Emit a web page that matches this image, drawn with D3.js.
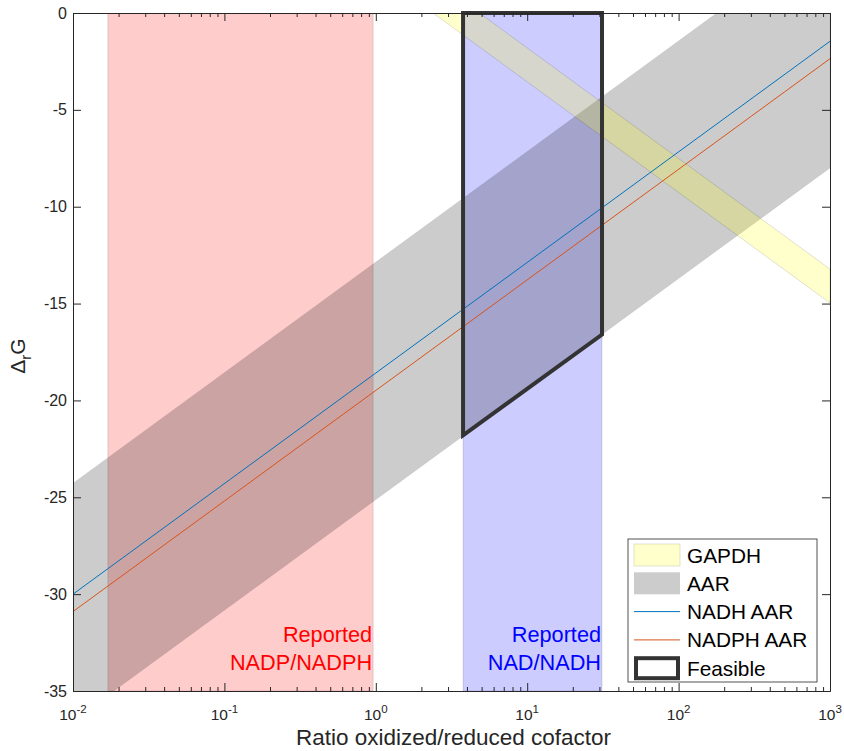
<!DOCTYPE html>
<html>
<head>
<meta charset="utf-8">
<script src="https://cdn.jsdelivr.net/npm/d3@7"></script>
<style>
  body { margin: 0; background: #fff; }
  text { font-family: "Liberation Sans", Arial, Helvetica, sans-serif; }
</style>
</head>
<body>
<script>
// data
const xTicks = [0.01, 0.1, 1, 10, 100, 1000]
const xTickExp = ["-2", "-1", "0", "1", "2", "3"]
const yTicks = [-35, -30, -25, -20, -15, -10, -5, 0]

const nadpRange = [0.017, 0.96]      // reported NADP/NADPH
const nadRange = [3.77, 31.2]        // reported NAD/NADH

const aarBand = [[0.01, -24.27], [1000, 4.27], [1000, -8.0], [0.01, -36.54]]
const gapdhBand = [[0.01, 15.32], [1000, -13.22], [1000, -14.97], [0.01, 13.57]]
const nadhLine = [[0.01, -30.0], [1000, -1.46]]
const nadphLine = [[0.01, -30.9], [1000, -2.36]]
const feasible = [[3.77, 0], [31.2, 0], [31.2, -16.6], [3.77, -21.8]]

const legendItems = ["GAPDH", "AAR", "NADH AAR", "NADPH AAR", "Feasible"]

width = 844
height = 751
margin = {left: 73, right: 14, top: 13, bottom: 60}
axisCol = "#262626"

svg = d3.select("body")
    .append("svg")
    .attr("width", width)
    .attr("height", height)

x = d3.scaleLog().domain([0.01, 1000]).range([margin.left, width - margin.right])
y = d3.scaleLinear().domain([-35, 0]).range([height - margin.bottom, margin.top])

svg.append("clipPath").attr("id", "plotclip")
    .append("rect")
    .attr("x", margin.left).attr("y", margin.top)
    .attr("width", x.range()[1] - margin.left)
    .attr("height", y.range()[0] - margin.top)

plot = svg.append("g").attr("clip-path", "url(#plotclip)")

line = d3.line().x(d => x(d[0])).y(d => y(d[1]))

// reported ranges (vertical bands)
function band(r, col) {
    plot.append("rect")
        .attr("x", x(r[0]))
        .attr("y", y(0))
        .attr("width", x(r[1]) - x(r[0]))
        .attr("height", y(-35) - y(0))
        .attr("fill", col)
        .attr("fill-opacity", 0.2)
        .attr("stroke", "#000")
        .attr("stroke-opacity", 0.12)
}
band(nadpRange, "#ff0000")
band(nadRange, "#0000ff")

// AAR and GAPDH patches
plot.append("path")
    .attr("d", line(aarBand) + "Z")
    .attr("fill", "#000").attr("fill-opacity", 0.2)
    .attr("stroke", "#000").attr("stroke-opacity", 0.05)
plot.append("path")
    .attr("d", line(gapdhBand) + "Z")
    .attr("fill", "#ffff00").attr("fill-opacity", 0.2)
    .attr("stroke", "#000").attr("stroke-opacity", 0.12)

plot.append("path").attr("d", line(nadhLine))
    .attr("fill", "none").attr("stroke", "#0072bd").attr("stroke-width", 1)
plot.append("path").attr("d", line(nadphLine))
    .attr("fill", "none").attr("stroke", "#d95319").attr("stroke-width", 1)

// feasible region outline
svg.append("path")
    .attr("d", line(feasible) + "Z")
    .attr("fill", "none")
    .attr("stroke", "#333")
    .attr("stroke-width", 4)
    .attr("stroke-linejoin", "miter")

// axes (ticks pointing in, box on)
minor = []
for (let e = -2; e < 3; e++) for (let k = 2; k < 10; k++) minor.push(k * Math.pow(10, e))

function styleAxis(g) {
    g.selectAll("path, line").attr("stroke", axisCol)
    g.selectAll("text").remove()
}
svg.append("g").attr("transform", "translate(0," + y(-35) + ")")
    .call(d3.axisBottom(x).tickValues(xTicks).tickSize(-8).tickSizeOuter(0).tickFormat("")).call(styleAxis)
svg.append("g").attr("transform", "translate(0," + y(-35) + ")")
    .call(d3.axisBottom(x).tickValues(minor).tickSize(-4).tickSizeOuter(0).tickFormat("")).call(styleAxis)
svg.append("g").attr("transform", "translate(0," + y(0) + ")")
    .call(d3.axisTop(x).tickValues(xTicks).tickSize(-8).tickSizeOuter(0).tickFormat("")).call(styleAxis)
svg.append("g").attr("transform", "translate(0," + y(0) + ")")
    .call(d3.axisTop(x).tickValues(minor).tickSize(-4).tickSizeOuter(0).tickFormat("")).call(styleAxis)
svg.append("g").attr("transform", "translate(" + x(0.01) + ",0)")
    .call(d3.axisLeft(y).tickValues(yTicks).tickSize(-8).tickSizeOuter(0).tickFormat("")).call(styleAxis)
svg.append("g").attr("transform", "translate(" + x(1000) + ",0)")
    .call(d3.axisRight(y).tickValues(yTicks).tickSize(-8).tickSizeOuter(0).tickFormat("")).call(styleAxis)

// tick labels
svg.selectAll("text.ylab")
    .data(yTicks)
    .enter()
    .append("text")
    .attr("class", "ylab")
    .attr("x", x(0.01) - 6)
    .attr("y", d => y(d) + 5.5)
    .attr("text-anchor", "end")
    .attr("font-size", 16)
    .attr("fill", axisCol)
    .text(d => d)

xl = svg.selectAll("text.xlab")
    .data(xTicks)
    .enter()
    .append("text")
    .attr("class", "xlab")
    .attr("x", d => x(d))
    .attr("y", y(-35) + 29)
    .attr("text-anchor", "middle")
    .attr("font-size", 15.5)
    .attr("fill", axisCol)
xl.append("tspan").text("10")
xl.append("tspan").attr("dy", -7).attr("font-size", 11.5).text((d, i) => xTickExp[i])

// axis titles
svg.append("text")
    .attr("x", (x.range()[0] + x.range()[1]) / 2 + 2)
    .attr("y", 745)
    .attr("text-anchor", "middle")
    .attr("font-size", 22.5)
    .attr("fill", axisCol)
    .text("Ratio oxidized/reduced cofactor")

yt = svg.append("text")
    .attr("transform", "translate(25,356) rotate(-90)")
    .attr("text-anchor", "middle")
    .attr("font-size", 21)
    .attr("fill", axisCol)
yt.append("tspan").text("\u0394")
yt.append("tspan").attr("font-size", 15).attr("dy", 6).text("r")
yt.append("tspan").attr("dy", -6).text("G")

// band annotations
function note(r, col, lines) {
    lines.forEach((t, i) => {
        svg.append("text")
            .attr("x", x(r[1]) - 1)
            .attr("y", 642 + i * 28)
            .attr("text-anchor", "end")
            .attr("font-size", 21.7)
            .attr("fill", col)
            .text(t)
    })
}
note(nadpRange, "#ff0000", ["Reported", "NADP/NADPH"])
note(nadRange, "#0000ff", ["Reported", "NAD/NADH"])

// legend
lg = svg.append("g").attr("transform", "translate(628,539)")
lg.append("rect")
    .attr("width", 189).attr("height", 143)
    .attr("fill", "#fff").attr("stroke", axisCol).attr("stroke-width", 0.8)

rowY = legendItems.map((d, i) => 16 + i * 28.3)
lg.append("rect").attr("x", 6).attr("y", rowY[0] - 11).attr("width", 46).attr("height", 22)
    .attr("fill", "#ffff00").attr("fill-opacity", 0.2).attr("stroke", "#000").attr("stroke-opacity", 0.12)
lg.append("rect").attr("x", 6).attr("y", rowY[1] - 11).attr("width", 46).attr("height", 22)
    .attr("fill", "#000").attr("fill-opacity", 0.2)
lg.append("line").attr("x1", 6).attr("x2", 52).attr("y1", rowY[2]).attr("y2", rowY[2])
    .attr("stroke", "#0072bd")
lg.append("line").attr("x1", 6).attr("x2", 52).attr("y1", rowY[3]).attr("y2", rowY[3])
    .attr("stroke", "#d95319")
lg.append("rect").attr("x", 8).attr("y", rowY[4] - 10).attr("width", 42).attr("height", 20)
    .attr("fill", "none").attr("stroke", "#333").attr("stroke-width", 4)

lg.selectAll("text.leg")
    .data(legendItems)
    .enter()
    .append("text")
    .attr("class", "leg")
    .attr("x", 59)
    .attr("y", (d, i) => rowY[i] + 7.5)
    .attr("font-size", 20.8)
    .attr("fill", "#000")
    .text(d => d)
</script>
</body>
</html>
